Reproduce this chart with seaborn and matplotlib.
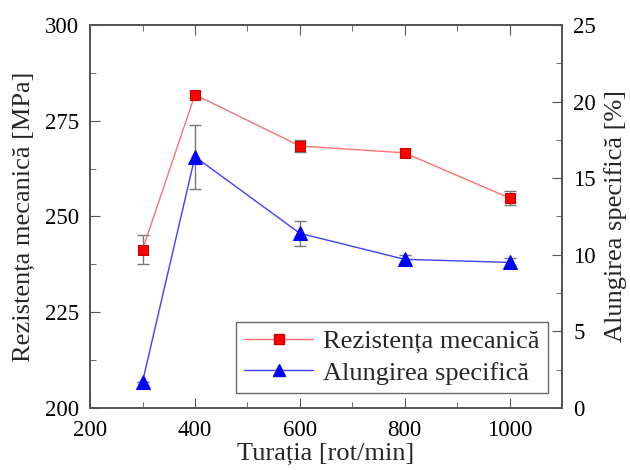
import numpy as np
import pandas as pd
import matplotlib
matplotlib.use("Agg")
import matplotlib.pyplot as plt
import seaborn as sns
from matplotlib.ticker import MultipleLocator
from matplotlib.lines import Line2D

# data
turatia = [300, 400, 600, 800, 1000]
rezistenta = [241.3, 281.8, 268.4, 266.6, 254.8]
rezistenta_err = [3.8, 1.0, 1.6, 1.0, 1.8]
alungire = [1.7, 16.4, 11.4, 9.7, 9.5]
alungire_err = [0.0, 2.1, 0.8, 0.3, 0.3]

sns.set_style("ticks")
plt.rcParams['font.family'] = ['Liberation Serif', 'DejaVu Serif']

df = pd.DataFrame({'turatia': turatia, 'rezistenta': rezistenta, 'alungire': alungire})

fig = plt.figure(figsize=(6.3, 4.7), dpi=100)
ax = fig.add_axes([0.143, 0.132, 0.749, 0.815])
ax2 = ax.twinx()

red = '#ff0000'
blue = '#0000ff'

ax.errorbar(turatia, rezistenta, yerr=rezistenta_err, fmt='none', ecolor='#777777',
            elinewidth=1, capsize=4, zorder=2)
sns.lineplot(data=df, x='turatia', y='rezistenta', ax=ax, color='#ff7070', lw=1,
             marker='s', markersize=7, markerfacecolor=red, markeredgecolor='#cc0000',
             zorder=3)
ax2.errorbar(turatia, alungire, yerr=alungire_err, fmt='none', ecolor='#777777',
             elinewidth=1, capsize=4, zorder=2)
sns.lineplot(data=df, x='turatia', y='alungire', ax=ax2, color='#4040ff', lw=1,
             marker='^', markersize=10, markerfacecolor=blue, markeredgecolor=blue,
             zorder=3)

ax.set_xlim(200, 1100)
ax.set_ylim(200, 300)
ax2.set_ylim(0, 25)
ax.xaxis.set_major_locator(MultipleLocator(200))
ax.xaxis.set_minor_locator(MultipleLocator(100))
ax.yaxis.set_major_locator(MultipleLocator(25))
ax.yaxis.set_minor_locator(MultipleLocator(12.5))
ax2.yaxis.set_major_locator(MultipleLocator(5))
ax2.yaxis.set_minor_locator(MultipleLocator(2.5))

spine_c = '#555555'
for a in (ax, ax2):
    for s in a.spines.values():
        s.set_color(spine_c)
        s.set_linewidth(1.3)
ax.tick_params(axis='x', which='both', direction='in', top=True, bottom=True,
               colors=spine_c, labelcolor='black', labelsize=16.5, pad=9)
ax.tick_params(axis='x', which='major', length=7)
ax.tick_params(axis='x', which='minor', length=4)
ax.tick_params(axis='y', which='both', direction='in', right=False,
               colors=spine_c, labelcolor='black', labelsize=16.5, pad=8)
ax.tick_params(axis='y', which='major', length=7)
ax.tick_params(axis='y', which='minor', length=4)
ax2.tick_params(axis='y', which='both', direction='in', left=False,
                colors=spine_c, labelcolor='black', labelsize=16.5, pad=8)
ax2.tick_params(axis='y', which='major', length=7)
ax2.tick_params(axis='y', which='minor', length=4)

ax.set_xlabel('Turația [rot/min]', fontsize=19, labelpad=1)
ax.set_ylabel('Rezistența mecanică [MPa]', fontsize=19, labelpad=7)
ax2.set_ylabel('Alungirea specifică [%]', fontsize=19, labelpad=6)

handles = [
    Line2D([], [], color='#ff7070', lw=1, marker='s', markersize=7,
           markerfacecolor=red, markeredgecolor='#cc0000'),
    Line2D([], [], color='#4040ff', lw=1, marker='^', markersize=8,
           markerfacecolor=blue, markeredgecolor=blue),
]
leg = ax2.legend(handles, ['Rezistența mecanică', 'Alungirea specifică'],
                 loc='lower right', bbox_to_anchor=(0.97, 0.04), fontsize=19,
                 fancybox=False, framealpha=1, edgecolor='#666666',
                 handlelength=2.6, borderpad=0.3, labelspacing=0.3,
                 handletextpad=0.4, borderaxespad=0)
leg.get_frame().set_linewidth(1)

fig.savefig('out.png', dpi=100)
